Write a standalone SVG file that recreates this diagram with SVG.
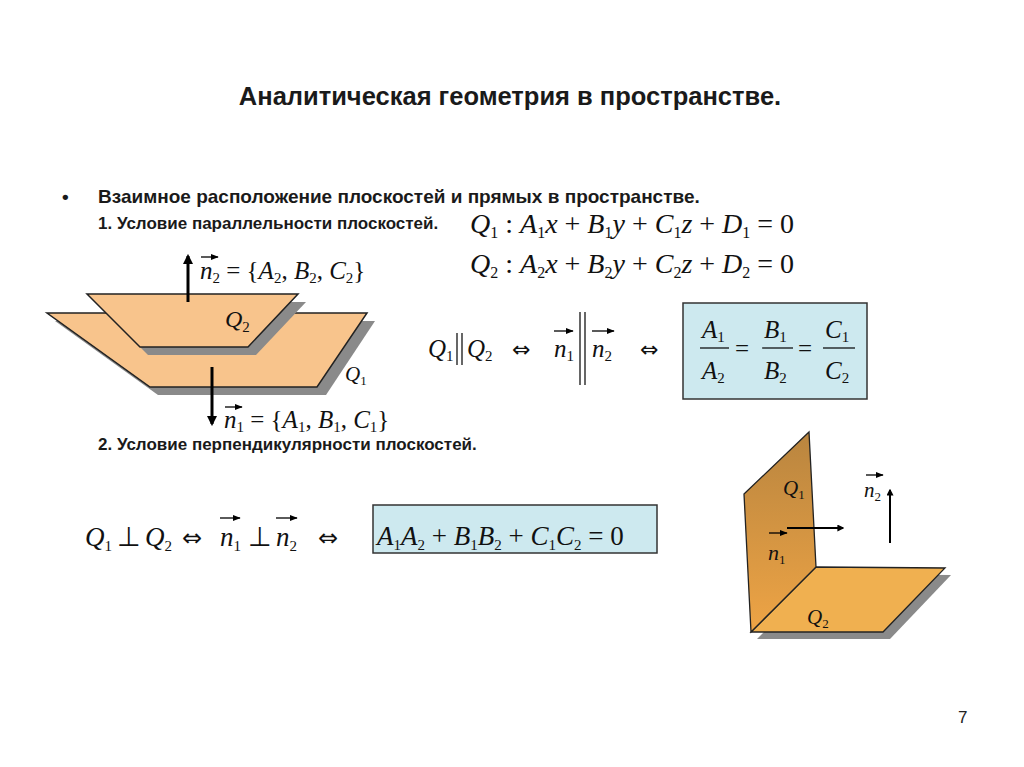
<svg xmlns="http://www.w3.org/2000/svg" width="1024" height="767" viewBox="0 0 1024 767">
<defs>
<style>
.h{font-family:"Liberation Sans",Arial,sans-serif;font-weight:bold;fill:#1a1a1a}
.m{font-family:"Liberation Serif","Times New Roman",serif;fill:#111}
.i{font-style:italic}
.pl{fill:#f8c48c;stroke:#222;stroke-width:1.5}
.sh{fill:#8a8a8a}
.box{fill:#cde9ef;stroke:#333;stroke-width:1.5}
.ar{stroke:#000;stroke-width:3;fill:none}
.vec{stroke:#000;stroke-width:1.3}
.eq{font-family:"DejaVu Sans",sans-serif;fill:#111}
</style>
<marker id="ah" viewBox="0 0 10 10" refX="8" refY="5" markerWidth="3.5" markerHeight="3.5" orient="auto"><path d="M0,0L10,5L0,10z" fill="#000"/></marker>
<marker id="sa" viewBox="0 0 10 10" refX="9" refY="5" markerWidth="6" markerHeight="6" orient="auto"><path d="M0,1L10,5L0,9z" fill="#000"/></marker>
<linearGradient id="g1" x1="0" y1="0" x2="0" y2="1"><stop offset="0" stop-color="#b9853f"/><stop offset="1" stop-color="#eea445"/></linearGradient>
</defs>
<rect width="1024" height="767" fill="#fff"/>
<text class="h" x="510" y="105" font-size="25.5" text-anchor="middle">Аналитическая геометрия в пространстве.</text>
<text class="h" x="62" y="203" font-size="19">•</text>
<text class="h" x="98" y="203" font-size="19">Взаимное расположение плоскостей и прямых в пространстве.</text>
<text class="h" x="98" y="229" font-size="17">1. Условие параллельности  плоскостей.</text>
<text class="h" x="98" y="450" font-size="17">2. Условие перпендикулярности плоскостей.</text>

<g id="eqQ1"><text class="m" x="470" y="233" font-size="28"><tspan class="i">Q</tspan><tspan font-size="16" dy="5">1</tspan><tspan dy="-5"> : </tspan><tspan class="i">A</tspan><tspan font-size="16" dy="5">1</tspan><tspan class="i" dy="-5">x</tspan> + <tspan class="i">B</tspan><tspan font-size="16" dy="5">1</tspan><tspan class="i" dy="-5">y</tspan> + <tspan class="i">C</tspan><tspan font-size="16" dy="5">1</tspan><tspan class="i" dy="-5">z</tspan> + <tspan class="i">D</tspan><tspan font-size="16" dy="5">1</tspan><tspan dy="-5"> = 0</tspan></text></g>
<g id="eqQ2"><text class="m" x="470" y="273" font-size="28"><tspan class="i">Q</tspan><tspan font-size="16" dy="5">2</tspan><tspan dy="-5"> : </tspan><tspan class="i">A</tspan><tspan font-size="16" dy="5">2</tspan><tspan class="i" dy="-5">x</tspan> + <tspan class="i">B</tspan><tspan font-size="16" dy="5">2</tspan><tspan class="i" dy="-5">y</tspan> + <tspan class="i">C</tspan><tspan font-size="16" dy="5">2</tspan><tspan class="i" dy="-5">z</tspan> + <tspan class="i">D</tspan><tspan font-size="16" dy="5">2</tspan><tspan dy="-5"> = 0</tspan></text></g>

<g id="planes-parallel">
<polygon class="sh" points="55,321 375,321 326,395 158,395"/>
<polygon class="pl" points="47,313 367,313 317,387 150,387"/>
<polygon class="sh" points="95,302 306,302 256,355 148,355"/>
<polygon class="pl" points="87,294 298,294 248,347 140,347"/>
<text class="m i" x="225" y="327" font-size="24">Q<tspan font-size="15" dy="5" font-style="normal">2</tspan></text>
<text class="m i" x="345" y="381" font-size="21">Q<tspan font-size="13" dy="4" font-style="normal">1</tspan></text>
</g>
<g id="normals-parallel">
<line class="ar" x1="188" y1="302" x2="188" y2="256" marker-end="url(#ah)"/>
<line class="ar" x1="212" y1="367" x2="212" y2="424" marker-end="url(#ah)"/>
<text class="m" x="200" y="279" font-size="25"><tspan class="i">n</tspan><tspan font-size="15" dy="4">2</tspan><tspan dy="-4"> = {</tspan><tspan class="i">A</tspan><tspan font-size="15" dy="4">2</tspan><tspan dy="-4">, </tspan><tspan class="i">B</tspan><tspan font-size="15" dy="4">2</tspan><tspan dy="-4">, </tspan><tspan class="i">C</tspan><tspan font-size="15" dy="4">2</tspan><tspan dy="-4">}</tspan></text>
<line class="vec" x1="201" y1="257" x2="218" y2="257" marker-end="url(#sa)"/>
<text class="m" x="224" y="428" font-size="25"><tspan class="i">n</tspan><tspan font-size="15" dy="4">1</tspan><tspan dy="-4"> = {</tspan><tspan class="i">A</tspan><tspan font-size="15" dy="4">1</tspan><tspan dy="-4">, </tspan><tspan class="i">B</tspan><tspan font-size="15" dy="4">1</tspan><tspan dy="-4">, </tspan><tspan class="i">C</tspan><tspan font-size="15" dy="4">1</tspan><tspan dy="-4">}</tspan></text>
<line class="vec" x1="225" y1="407" x2="242" y2="407" marker-end="url(#sa)"/>
</g>

<g id="parallel-cond">
<text class="m" x="428" y="357" font-size="25"><tspan class="i">Q</tspan><tspan font-size="15" dy="4">1</tspan></text>
<line x1="457" y1="333" x2="457" y2="365" stroke="#000" stroke-width="1.2"/><line x1="462" y1="333" x2="462" y2="365" stroke="#000" stroke-width="1.2"/>
<text class="m" x="467" y="357" font-size="25"><tspan class="i">Q</tspan><tspan font-size="15" dy="4">2</tspan></text>
<text class="eq" x="512" y="357" font-size="22">⇔</text>
<text class="m" x="554" y="357" font-size="25"><tspan class="i">n</tspan><tspan font-size="15" dy="4">1</tspan></text>
<line class="vec" x1="554" y1="331" x2="573" y2="331" marker-end="url(#sa)"/>
<line x1="580" y1="312" x2="580" y2="385" stroke="#000" stroke-width="1.2"/><line x1="585" y1="312" x2="585" y2="385" stroke="#000" stroke-width="1.2"/>
<text class="m" x="592" y="357" font-size="25"><tspan class="i">n</tspan><tspan font-size="15" dy="4">2</tspan></text>
<line class="vec" x1="592" y1="331" x2="614" y2="331" marker-end="url(#sa)"/>
<text class="eq" x="640" y="357" font-size="22">⇔</text>
</g>
<g id="box1">
<rect class="box" x="683" y="303" width="184" height="96"/>
<g class="m" font-size="25">
<text x="702" y="338" class="i">A<tspan font-size="15" dy="4" font-style="normal">1</tspan></text>
<text x="702" y="379" class="i">A<tspan font-size="15" dy="4" font-style="normal">2</tspan></text>
<line x1="700" y1="348" x2="729" y2="348" stroke="#000" stroke-width="1.2"/>
<text x="735" y="357">=</text>
<text x="764" y="338" class="i">B<tspan font-size="15" dy="4" font-style="normal">1</tspan></text>
<text x="764" y="379" class="i">B<tspan font-size="15" dy="4" font-style="normal">2</tspan></text>
<line x1="762" y1="348" x2="793" y2="348" stroke="#000" stroke-width="1.2"/>
<text x="798" y="357">=</text>
<text x="825" y="338" class="i">C<tspan font-size="15" dy="4" font-style="normal">1</tspan></text>
<text x="825" y="379" class="i">C<tspan font-size="15" dy="4" font-style="normal">2</tspan></text>
<line x1="823" y1="348" x2="855" y2="348" stroke="#000" stroke-width="1.2"/>
</g>
</g>

<g id="perp-cond" class="m" font-size="27">
<text x="85" y="546" class="i">Q<tspan font-size="15" dy="5" font-style="normal">1</tspan></text>
<text x="117" y="546">⊥</text>
<text x="145" y="546" class="i">Q<tspan font-size="15" dy="5" font-style="normal">2</tspan></text>
<text class="eq" x="182" y="546" font-size="24">⇔</text>
<text x="220" y="546" class="i">n<tspan font-size="15" dy="5" font-style="normal">1</tspan></text>
<line class="vec" x1="220" y1="518" x2="240" y2="518" marker-end="url(#sa)"/>
<text x="248" y="546">⊥</text>
<text x="276" y="546" class="i">n<tspan font-size="15" dy="5" font-style="normal">2</tspan></text>
<line class="vec" x1="276" y1="518" x2="297" y2="518" marker-end="url(#sa)"/>
<text class="eq" x="318" y="546" font-size="24">⇔</text>
</g>
<g id="box2">
<rect class="box" x="373" y="505" width="284" height="48"/>
<text class="m" x="377" y="545" font-size="27"><tspan class="i">A</tspan><tspan font-size="15" dy="5">1</tspan><tspan class="i" dy="-5">A</tspan><tspan font-size="15" dy="5">2</tspan><tspan dy="-5"> + </tspan><tspan class="i">B</tspan><tspan font-size="15" dy="5">1</tspan><tspan class="i" dy="-5">B</tspan><tspan font-size="15" dy="5">2</tspan><tspan dy="-5"> + </tspan><tspan class="i">C</tspan><tspan font-size="15" dy="5">1</tspan><tspan class="i" dy="-5">C</tspan><tspan font-size="15" dy="5">2</tspan><tspan dy="-5"> = 0</tspan></text>
</g>

<g id="planes-perp">
<polygon class="sh" points="822,574 951,575 890,639 757,639"/>
<polygon points="816,567 945,568 883,632 751,632" fill="#f0b050" stroke="#222" stroke-width="1.3"/>
<polygon points="744,494 809,432 816,567 751,632" fill="url(#g1)" stroke="#222" stroke-width="1.3"/>
<text class="m i" x="783" y="495" font-size="21">Q<tspan font-size="13" dy="4" font-style="normal">1</tspan></text>
<text class="m i" x="807" y="624" font-size="21">Q<tspan font-size="13" dy="4" font-style="normal">2</tspan></text>
<line x1="787" y1="528" x2="843" y2="528" stroke="#000" stroke-width="2" marker-end="url(#ah)"/>
<line x1="890" y1="543" x2="890" y2="490" stroke="#000" stroke-width="2" marker-end="url(#ah)"/>
<text class="m i" x="768" y="560" font-size="22">n<tspan font-size="13" dy="4" font-style="normal">1</tspan></text>
<line class="vec" x1="769" y1="533" x2="787" y2="533" marker-end="url(#sa)"/>
<text class="m i" x="864" y="497" font-size="21">n<tspan font-size="13" dy="4" font-style="normal">2</tspan></text>
<line class="vec" x1="866" y1="475" x2="883" y2="475" marker-end="url(#sa)"/>
</g>
<text x="958" y="723" font-family="Liberation Sans,Arial,sans-serif" font-size="17" fill="#222">7</text>
</svg>
